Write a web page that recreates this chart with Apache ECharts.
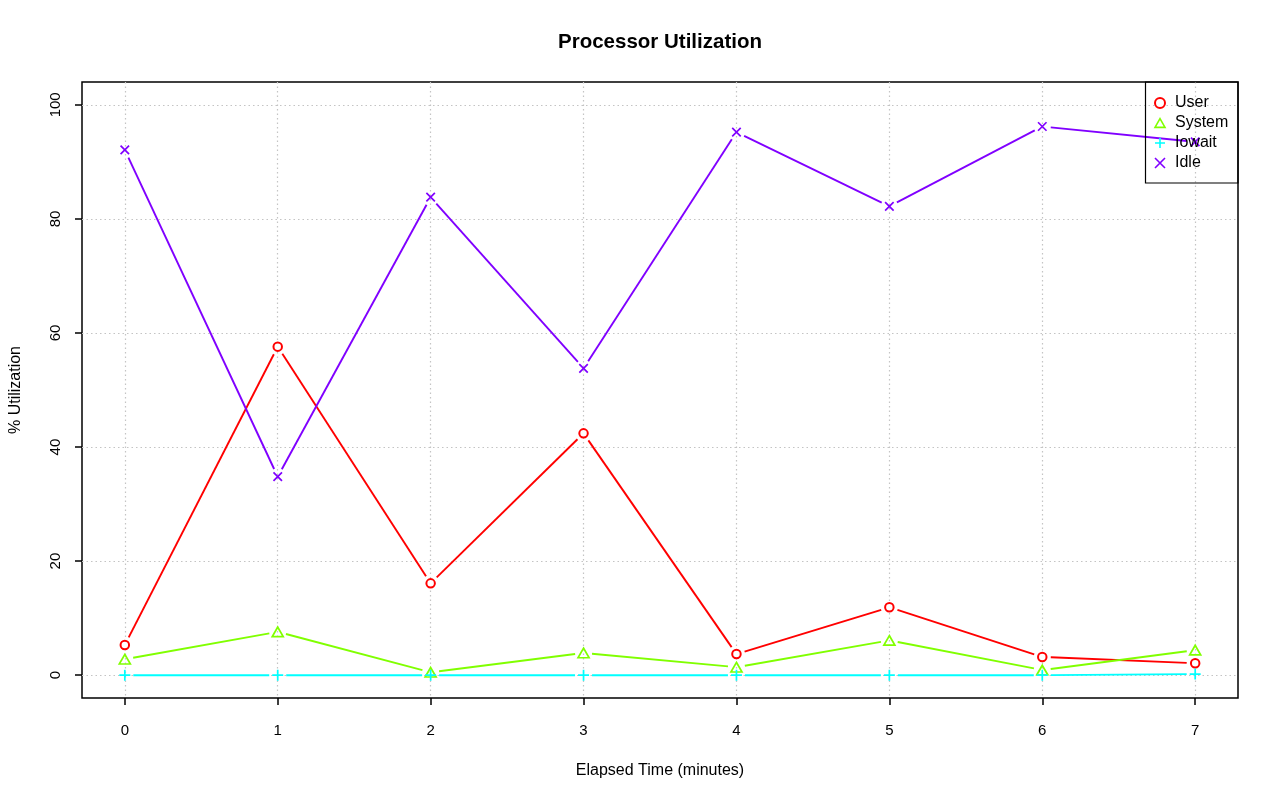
<!DOCTYPE html>
<html>
<head>
<meta charset="utf-8">
<script src="https://cdn.jsdelivr.net/npm/echarts@6/dist/echarts.min.js"></script>
<style>html,body{margin:0;padding:0;background:#fff;}#chart{width:1280px;height:801px;}</style>
</head>
<body>
<div id="chart"></div>
<script>
const minutes = [0, 1, 2, 3, 4, 5, 6, 7];
const userPct   = [5.3, 57.6, 16.1, 42.4, 3.7, 11.9, 3.2, 2.1];
const systemPct = [2.8, 7.6, 0.5, 3.9, 1.4, 6.1, 0.9, 4.4];
const iowaitPct = [0.0, 0.0, 0.0, 0.0, 0.0, 0.0, 0.0, 0.2];
const idlePct   = [92.1, 34.8, 83.8, 53.8, 95.2, 82.2, 96.2, 93.5];
const yTicks = [0, 20, 40, 60, 80, 100];
const xTicks = [0, 1, 2, 3, 4, 5, 6, 7];

const FONT = '"Liberation Sans", Arial, Helvetica, sans-serif';
const seriesDefs = [
  {name: 'User', data: userPct, color: '#FF0000', symbol: 'emptyCircle', size: 8.5},
  {name: 'System', data: systemPct, color: '#80FF00', symbol: 'path://M5,0 L10,8.66 L0,8.66 Z', size: [11, 9.5]},
  {name: 'Iowait', data: iowaitPct, color: '#00FFFF', symbol: 'path://M5,0 L5,10 M0,5 L10,5', size: 11},
  {name: 'Idle', data: idlePct, color: '#8000FF', symbol: 'path://M0,0 L10,10 M10,0 L0,10', size: 8.5}
];
const GAP = 8.5;

const series = [];
seriesDefs.forEach(function (d) {
  const segs = [];
  for (let i = 1; i < minutes.length; i++) {
    segs.push([minutes[i - 1], d.data[i - 1], minutes[i], d.data[i]]);
  }
  series.push({
    type: 'custom',
    name: d.name + ' line',
    data: segs,
    encode: {x: [0, 2], y: [1, 3]},
    clip: true,
    silent: true,
    renderItem: function (params, api) {
      const p0 = api.coord([api.value(0), api.value(1)]);
      const p1 = api.coord([api.value(2), api.value(3)]);
      const dx = p1[0] - p0[0], dy = p1[1] - p0[1];
      const len = Math.sqrt(dx * dx + dy * dy);
      if (len <= 2 * GAP) return null;
      const ux = dx / len, uy = dy / len;
      return {
        type: 'line',
        shape: {x1: p0[0] + ux * GAP, y1: p0[1] + uy * GAP, x2: p1[0] - ux * GAP, y2: p1[1] - uy * GAP},
        style: {stroke: d.color, lineWidth: 1.9}
      };
    }
  });
});
seriesDefs.forEach(function (d) {
  series.push({
    type: 'scatter',
    name: d.name,
    data: minutes.map(function (m, i) { return [m, d.data[i]]; }),
    symbol: d.symbol,
    symbolSize: d.size,
    itemStyle: {color: d.symbol === 'emptyCircle' ? d.color : 'none', borderColor: d.color, borderWidth: 1.7, opacity: 1},
    emphasis: {disabled: true},
    z: 3
  });
});

const chart = echarts.init(document.getElementById('chart'), null, {renderer: 'canvas'});
chart.setOption({
  animation: false,
  backgroundColor: '#ffffff',
  title: {
    text: 'Processor Utilization',
    left: 660,
    textAlign: 'center',
    top: 32,
    padding: 0,
    textStyle: {fontFamily: FONT, fontSize: 20.5, fontWeight: 'bold', color: '#000'}
  },
  grid: {left: 82, right: 42, top: 82, bottom: 103, show: true, borderColor: '#000', borderWidth: 1.5,
         backgroundColor: 'transparent', outerBoundsMode: 'none', containLabel: false},
  legend: {
    orient: 'vertical',
    right: 42,
    top: 82,
    padding: [13, 7, 12, 7],
    itemGap: 4,
    itemWidth: 10,
    itemHeight: 10,
    borderColor: '#000',
    borderWidth: 1.2,
    backgroundColor: 'transparent',
    selectedMode: false,
    textStyle: {fontFamily: FONT, fontSize: 16, color: '#000', lineHeight: 16, width: 56, padding: [0, 0, 0, 5]},
    data: seriesDefs.map(function (d) {
      return {name: d.name, icon: d.symbol,
        itemStyle: {color: d.symbol === 'emptyCircle' ? d.color : 'none', borderColor: d.color, borderWidth: 1.6}};
    })
  },
  xAxis: {
    type: 'value',
    min: -0.28,
    max: 7.28,
    name: 'Elapsed Time (minutes)',
    nameLocation: 'middle',
    nameGap: 65,
    nameTextStyle: {fontFamily: FONT, fontSize: 16, color: '#000'},
    axisLine: {show: false, onZero: false},
    axisTick: {show: true, length: 7, lineStyle: {color: '#000', width: 1.5}, customValues: xTicks},
    axisLabel: {fontFamily: FONT, fontSize: 15, color: '#000', margin: 25, customValues: xTicks},
    splitLine: {show: true, lineStyle: {color: '#c4c4c4', width: 1.2, type: [1.5, 3]}}
  },
  yAxis: {
    type: 'value',
    min: -4,
    max: 104,
    name: '% Utilization',
    nameLocation: 'middle',
    nameGap: 58,
    nameTextStyle: {fontFamily: FONT, fontSize: 16, color: '#000'},
    axisLine: {show: false, onZero: false},
    axisTick: {show: true, length: 7, lineStyle: {color: '#000', width: 1.5}, customValues: yTicks},
    axisLabel: {fontFamily: FONT, fontSize: 15, color: '#000', margin: 19, rotate: 90, customValues: yTicks},
    splitLine: {show: true, lineStyle: {color: '#c4c4c4', width: 1.2, type: [1.5, 3]}}
  },
  series: series
});
</script>
</body>
</html>
